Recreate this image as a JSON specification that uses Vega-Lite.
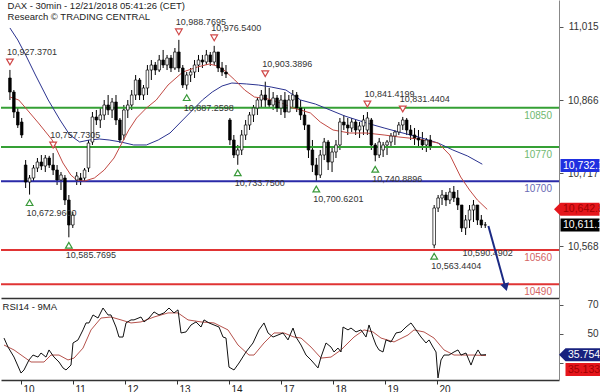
{
"$schema":"https://vega.github.io/schema/vega-lite/v6.json",
"padding":0,"spacing":1,"background":"white",
"config":{"view":{"stroke":null},"font":"Liberation Sans","axis":{"grid":false,"labelFont":"Liberation Sans"}},
"resolve":{"scale":{"y":"independent"}},
"datasets":{
"candles":[
{"n":-4,"o":10910.9,"h":10927.37,"l":10866.0,"c":10882.3},{"n":-3,"o":10882.3,"h":10886.4,"l":10829.3,"c":10841.5},{"n":-2,"o":10841.5,"h":10849.7,"l":10808.9,"c":10815.0},{"n":-1,"o":10821.1,"h":10829.3,"l":10788.5,"c":10794.6},
{"n":0,"o":10733.3,"h":10743.5,"l":10686.4,"c":10698.6},{"n":1,"o":10698.6,"h":10712.9,"l":10672.96,"c":10706.8},{"n":2,"o":10706.8,"h":10733.3,"l":10698.6,"c":10727.2},{"n":3,"o":10727.2,"h":10747.6,"l":10719.0,"c":10739.4},{"n":4,"o":10739.4,"h":10753.7,"l":10723.1,"c":10731.3},{"n":5,"o":10731.3,"h":10753.7,"l":10719.0,"c":10747.6},{"n":6,"o":10747.6,"h":10752.0,"l":10727.2,"c":10733.3},{"n":7,"o":10733.3,"h":10757.73,"l":10712.9,"c":10723.1},{"n":8,"o":10723.1,"h":10733.3,"l":10692.5,"c":10702.7},{"n":9,"o":10702.7,"h":10719.0,"l":10682.3,"c":10712.9},{"n":10,"o":10706.8,"h":10712.9,"l":10651.7,"c":10661.9},{"n":11,"o":10661.9,"h":10672.1,"l":10585.77,"c":10610.9},{"n":12,"o":10610.9,"h":10637.4,"l":10604.8,"c":10631.3},
{"n":13,"o":10702.7,"h":10719.0,"l":10692.5,"c":10710.9},{"n":14,"o":10706.8,"h":10717.0,"l":10692.5,"c":10702.7},{"n":15,"o":10706.8,"h":10727.2,"l":10698.6,"c":10723.1},{"n":16,"o":10727.2,"h":10784.4,"l":10719.0,"c":10778.2},{"n":17,"o":10780.3,"h":10841.5,"l":10774.2,"c":10831.3},{"n":18,"o":10831.3,"h":10845.6,"l":10815.0,"c":10825.2},{"n":19,"o":10825.2,"h":10849.7,"l":10808.9,"c":10835.4},{"n":20,"o":10835.4,"h":10866.0,"l":10825.2,"c":10855.8},{"n":21,"o":10855.8,"h":10876.2,"l":10835.4,"c":10845.6},{"n":22,"o":10845.6,"h":10870.1,"l":10829.3,"c":10861.9},{"n":23,"o":10861.9,"h":10876.2,"l":10815.0,"c":10825.2},{"n":24,"o":10825.2,"h":10829.3,"l":10778.2,"c":10784.4},{"n":25,"o":10794.6,"h":10855.8,"l":10784.4,"c":10845.6},
{"n":26,"o":10845.6,"h":10866.0,"l":10829.3,"c":10855.8},{"n":27,"o":10855.8,"h":10886.4,"l":10845.6,"c":10876.2},{"n":28,"o":10876.2,"h":10917.0,"l":10866.0,"c":10906.8},{"n":29,"o":10906.8,"h":10910.9,"l":10866.0,"c":10876.2},{"n":30,"o":10876.2,"h":10896.6,"l":10866.0,"c":10890.5},{"n":31,"o":10890.5,"h":10937.4,"l":10876.2,"c":10927.2},{"n":32,"o":10927.2,"h":10947.6,"l":10906.8,"c":10937.4},{"n":33,"o":10937.4,"h":10943.6,"l":10917.0,"c":10927.2},{"n":34,"o":10927.2,"h":10957.9,"l":10923.1,"c":10947.6},{"n":35,"o":10947.6,"h":10968.1,"l":10931.3,"c":10937.4},{"n":36,"o":10937.4,"h":10957.9,"l":10927.2,"c":10951.7},{"n":37,"o":10951.7,"h":10957.9,"l":10923.1,"c":10931.3},{"n":38,"o":10931.3,"h":10972.1,"l":10927.2,"c":10964.0},
{"n":39,"o":10964.0,"h":10988.77,"l":10923.1,"c":10931.3},{"n":40,"o":10931.3,"h":10937.4,"l":10890.5,"c":10896.6},{"n":41,"o":10896.6,"h":10923.1,"l":10887.26,"c":10917.0},{"n":42,"o":10917.0,"h":10931.3,"l":10902.7,"c":10923.1},{"n":43,"o":10923.1,"h":10947.6,"l":10910.9,"c":10937.4},{"n":44,"o":10937.4,"h":10957.9,"l":10923.1,"c":10947.6},{"n":45,"o":10947.6,"h":10957.9,"l":10931.3,"c":10943.6},{"n":46,"o":10943.6,"h":10968.1,"l":10937.4,"c":10957.9},{"n":47,"o":10957.9,"h":10964.0,"l":10935.4,"c":10943.6},{"n":48,"o":10943.6,"h":10976.54,"l":10937.4,"c":10964.0},{"n":49,"o":10964.0,"h":10964.0,"l":10923.1,"c":10931.3},{"n":50,"o":10931.3,"h":10943.6,"l":10915.0,"c":10923.1},{"n":51,"o":10923.1,"h":10937.4,"l":10910.9,"c":10919.1},
{"n":52,"o":10825.2,"h":10829.3,"l":10774.2,"c":10784.4},{"n":53,"o":10784.4,"h":10794.6,"l":10747.6,"c":10753.7},{"n":54,"o":10753.7,"h":10774.2,"l":10733.75,"c":10764.0},{"n":55,"o":10764.0,"h":10804.8,"l":10753.7,"c":10794.6},{"n":56,"o":10794.6,"h":10825.2,"l":10784.4,"c":10815.0},{"n":57,"o":10815.0,"h":10841.5,"l":10804.8,"c":10835.4},{"n":58,"o":10835.4,"h":10855.8,"l":10821.1,"c":10849.7},{"n":59,"o":10849.7,"h":10870.1,"l":10835.4,"c":10866.0},{"n":60,"o":10866.0,"h":10886.4,"l":10849.7,"c":10876.2},{"n":61,"o":10876.2,"h":10903.39,"l":10849.7,"c":10866.0},{"n":62,"o":10866.0,"h":10890.5,"l":10849.7,"c":10855.8},{"n":63,"o":10855.8,"h":10882.3,"l":10845.6,"c":10870.1},{"n":64,"o":10870.1,"h":10876.2,"l":10841.5,"c":10849.7},
{"n":65,"o":10849.7,"h":10876.2,"l":10835.4,"c":10866.0},{"n":66,"o":10866.0,"h":10882.3,"l":10829.3,"c":10841.5},{"n":67,"o":10841.5,"h":10876.2,"l":10841.5,"c":10866.0},{"n":68,"o":10866.0,"h":10886.4,"l":10849.7,"c":10876.2},{"n":69,"o":10876.2,"h":10882.3,"l":10841.5,"c":10849.7},{"n":70,"o":10849.7,"h":10866.0,"l":10825.2,"c":10835.4},{"n":71,"o":10835.4,"h":10849.7,"l":10804.8,"c":10815.0},{"n":72,"o":10815.0,"h":10815.0,"l":10747.6,"c":10764.0},{"n":73,"o":10764.0,"h":10784.4,"l":10719.0,"c":10733.3},{"n":74,"o":10733.3,"h":10747.6,"l":10700.62,"c":10712.9},{"n":75,"o":10712.9,"h":10764.0,"l":10706.8,"c":10753.7},{"n":76,"o":10753.7,"h":10788.5,"l":10743.5,"c":10780.3},{"n":77,"o":10780.3,"h":10784.4,"l":10723.1,"c":10739.4},
{"n":78,"o":10739.4,"h":10768.0,"l":10719.0,"c":10759.9},{"n":79,"o":10759.9,"h":10784.4,"l":10747.6,"c":10774.2},{"n":80,"o":10774.2,"h":10829.3,"l":10764.0,"c":10821.1},{"n":81,"o":10821.1,"h":10835.4,"l":10804.8,"c":10815.0},{"n":82,"o":10815.0,"h":10829.3,"l":10794.6,"c":10808.9},{"n":83,"o":10808.9,"h":10829.3,"l":10800.7,"c":10821.1},{"n":84,"o":10821.1,"h":10825.2,"l":10794.6,"c":10804.8},{"n":85,"o":10804.8,"h":10821.1,"l":10788.5,"c":10812.9},{"n":86,"o":10812.9,"h":10835.4,"l":10794.6,"c":10825.2},{"n":87,"o":10804.8,"h":10841.42,"l":10794.6,"c":10829.3},{"n":88,"o":10825.2,"h":10829.3,"l":10764.0,"c":10774.2},{"n":89,"o":10774.2,"h":10778.2,"l":10740.89,"c":10753.7},{"n":90,"o":10753.7,"h":10788.5,"l":10747.6,"c":10780.3},
{"n":91,"o":10764.0,"h":10780.3,"l":10749.7,"c":10774.2},{"n":92,"o":10774.2,"h":10784.4,"l":10753.7,"c":10780.3},{"n":93,"o":10780.3,"h":10798.6,"l":10768.0,"c":10792.5},{"n":94,"o":10792.5,"h":10804.8,"l":10774.2,"c":10800.7},{"n":95,"o":10800.7,"h":10821.1,"l":10794.6,"c":10815.0},{"n":96,"o":10815.0,"h":10831.44,"l":10804.8,"c":10825.2},{"n":97,"o":10825.2,"h":10829.3,"l":10794.6,"c":10804.8},{"n":98,"o":10804.8,"h":10815.0,"l":10784.4,"c":10794.6},{"n":99,"o":10794.6,"h":10808.9,"l":10774.2,"c":10788.5},{"n":100,"o":10788.5,"h":10804.8,"l":10768.0,"c":10784.4},{"n":101,"o":10784.4,"h":10800.7,"l":10764.0,"c":10774.2},{"n":102,"o":10774.2,"h":10788.5,"l":10759.9,"c":10784.4},{"n":103,"o":10784.4,"h":10794.6,"l":10764.0,"c":10772.1},
{"n":104,"o":10570.1,"h":10651.7,"l":10563.44,"c":10645.6},{"n":105,"o":10645.6,"h":10672.1,"l":10637.4,"c":10666.0},{"n":106,"o":10666.0,"h":10682.3,"l":10651.7,"c":10672.1},{"n":107,"o":10672.1,"h":10678.2,"l":10649.6,"c":10661.9},{"n":108,"o":10661.9,"h":10686.4,"l":10653.7,"c":10678.2},{"n":109,"o":10678.2,"h":10690.5,"l":10657.8,"c":10666.0},{"n":110,"o":10666.0,"h":10682.3,"l":10641.5,"c":10651.7},{"n":111,"o":10651.7,"h":10651.7,"l":10596.6,"c":10604.8},{"n":112,"o":10604.8,"h":10631.3,"l":10590.49,"c":10621.1},{"n":113,"o":10621.1,"h":10651.7,"l":10604.8,"c":10641.5},{"n":114,"o":10641.5,"h":10661.9,"l":10617.0,"c":10651.7},{"n":115,"o":10651.7,"h":10651.7,"l":10610.9,"c":10621.1},{"n":116,"o":10621.1,"h":10631.3,"l":10604.8,"c":10610.9},{"n":117,"o":10610.9,"h":10617.0,"l":10604.8,"c":10611.1}
],
"ma":[
{"s":"fast","n":-4,"v":10872.1},{"s":"fast","n":-1.75,"v":10866.0},{"s":"fast","n":0,"v":10849.7},{"s":"fast","n":3.25,"v":10819.1},{"s":"fast","n":6.75,"v":10784.4},{"s":"fast","n":9.5,"v":10737.4},{"s":"fast","n":11.5,"v":10712.9},{"s":"fast","n":13,"v":10702.7},{"s":"fast","n":15,"v":10700.7},{"s":"fast","n":17.5,"v":10706.8},{"s":"fast","n":20,"v":10723.1},{"s":"fast","n":22.5,"v":10747.6},{"s":"fast","n":24.25,"v":10774.2},{"s":"fast","n":26.25,"v":10804.8},{"s":"fast","n":28.25,"v":10829.3},{"s":"fast","n":30.75,"v":10849.7},{"s":"fast","n":33.25,"v":10866.0},{"s":"fast","n":36.25,"v":10896.6},{"s":"fast","n":40,"v":10923.1},{"s":"fast","n":43.75,"v":10933.4},{"s":"fast","n":46.75,"v":10939.5},{"s":"fast","n":48.75,"v":10935.4},{"s":"fast","n":50.5,"v":10927.2},{"s":"fast","n":53.25,"v":10906.8},{"s":"fast","n":55.75,"v":10886.4},{"s":"fast","n":58.25,"v":10872.1},{"s":"fast","n":61.75,"v":10868.0},{"s":"fast","n":65.75,"v":10857.8},{"s":"fast","n":68,"v":10849.7},{"s":"fast","n":70,"v":10845.6},{"s":"fast","n":72.5,"v":10839.5},{"s":"fast","n":75,"v":10821.1},{"s":"fast","n":78.25,"v":10804.8},{"s":"fast","n":82.5,"v":10798.6},{"s":"fast","n":86.75,"v":10798.6},{"s":"fast","n":91.25,"v":10794.6},{"s":"fast","n":95,"v":10790.5},{"s":"fast","n":100,"v":10786.4},{"s":"fast","n":105,"v":10778.2},{"s":"fast","n":108,"v":10753.7},{"s":"fast","n":110.75,"v":10708.8},{"s":"fast","n":113,"v":10682.3},{"s":"fast","n":115,"v":10661.9},{"s":"fast","n":117.5,"v":10642.8},
{"s":"slow","n":-4,"v":11013.0},{"s":"slow","n":-2,"v":10988.5},{"s":"slow","n":0,"v":10957.9},{"s":"slow","n":2.5,"v":10917.0},{"s":"slow","n":5.75,"v":10866.0},{"s":"slow","n":8.75,"v":10825.2},{"s":"slow","n":11.25,"v":10794.6},{"s":"slow","n":13.75,"v":10780.3},{"s":"slow","n":16.25,"v":10784.4},{"s":"slow","n":18.75,"v":10786.4},{"s":"slow","n":21.25,"v":10784.4},{"s":"slow","n":24.25,"v":10780.3},{"s":"slow","n":27.5,"v":10774.2},{"s":"slow","n":30.75,"v":10774.2},{"s":"slow","n":33.75,"v":10784.4},{"s":"slow","n":36.75,"v":10798.6},{"s":"slow","n":40,"v":10825.2},{"s":"slow","n":42.5,"v":10845.6},{"s":"slow","n":45,"v":10866.0},{"s":"slow","n":47.5,"v":10882.3},{"s":"slow","n":50,"v":10894.6},{"s":"slow","n":52.5,"v":10900.7},{"s":"slow","n":56.25,"v":10898.7},{"s":"slow","n":59.25,"v":10896.6},{"s":"slow","n":62.5,"v":10892.5},{"s":"slow","n":66.25,"v":10886.4},{"s":"slow","n":70,"v":10866.0},{"s":"slow","n":73.75,"v":10857.8},{"s":"slow","n":76.25,"v":10849.7},{"s":"slow","n":81.25,"v":10833.3},{"s":"slow","n":86.75,"v":10819.1},{"s":"slow","n":91.25,"v":10808.9},{"s":"slow","n":95,"v":10800.7},{"s":"slow","n":100,"v":10790.5},{"s":"slow","n":105,"v":10778.2},{"s":"slow","n":108.75,"v":10764.0},{"s":"slow","n":112.5,"v":10751.7},{"s":"slow","n":116.25,"v":10735.0}
],
"rsi":[
{"s":"rsi","n":-4.25,"v":47.2},{"s":"rsi","n":-3.25,"v":41.0},{"s":"rsi","n":-1.75,"v":34.1},{"s":"rsi","n":0,"v":23.1},{"s":"rsi","n":0.75,"v":25.2},{"s":"rsi","n":2,"v":32.1},{"s":"rsi","n":3,"v":35.5},{"s":"rsi","n":4.25,"v":34.1},{"s":"rsi","n":5,"v":36.9},{"s":"rsi","n":6.25,"v":34.1},{"s":"rsi","n":7,"v":39.0},{"s":"rsi","n":8.25,"v":34.1},{"s":"rsi","n":9.5,"v":30.7},{"s":"rsi","n":10.5,"v":26.6},{"s":"rsi","n":11.25,"v":25.2},{"s":"rsi","n":12.5,"v":28.6},{"s":"rsi","n":13,"v":43.8},{"s":"rsi","n":14.25,"v":45.9},{"s":"rsi","n":15.5,"v":52.8},{"s":"rsi","n":16.25,"v":57.6},{"s":"rsi","n":17,"v":57.6},{"s":"rsi","n":18,"v":63.1},{"s":"rsi","n":19.25,"v":61.0},{"s":"rsi","n":20.5,"v":67.9},{"s":"rsi","n":21.75,"v":63.1},{"s":"rsi","n":22.5,"v":63.1},{"s":"rsi","n":23.75,"v":54.8},{"s":"rsi","n":24.5,"v":47.9},{"s":"rsi","n":25.5,"v":47.9},{"s":"rsi","n":26.25,"v":57.6},{"s":"rsi","n":27.5,"v":59.7},{"s":"rsi","n":28.25,"v":59.7},{"s":"rsi","n":30,"v":61.7},{"s":"rsi","n":30.75,"v":58.3},{"s":"rsi","n":32,"v":61.0},{"s":"rsi","n":33.25,"v":65.2},{"s":"rsi","n":34.5,"v":63.1},{"s":"rsi","n":35.75,"v":64.5},{"s":"rsi","n":37,"v":67.9},{"s":"rsi","n":38.25,"v":64.5},{"s":"rsi","n":39.25,"v":66.6},{"s":"rsi","n":40,"v":50.7},{"s":"rsi","n":41.25,"v":51.4},{"s":"rsi","n":42.5,"v":56.2},{"s":"rsi","n":43.75,"v":58.3},{"s":"rsi","n":45,"v":54.8},{"s":"rsi","n":45.75,"v":59.7},{"s":"rsi","n":47,"v":57.6},{"s":"rsi","n":48.25,"v":56.2},{"s":"rsi","n":49.5,"v":54.8},{"s":"rsi","n":50.5,"v":47.9},{"s":"rsi","n":51.25,"v":47.2},{"s":"rsi","n":52,"v":27.2},{"s":"rsi","n":53.25,"v":25.2},{"s":"rsi","n":54.5,"v":30.0},{"s":"rsi","n":56.25,"v":37.6},{"s":"rsi","n":58,"v":43.8},{"s":"rsi","n":59.5,"v":52.8},{"s":"rsi","n":60.75,"v":57.6},{"s":"rsi","n":61.75,"v":50.7},{"s":"rsi","n":63,"v":47.9},{"s":"rsi","n":64.25,"v":49.3},{"s":"rsi","n":65.5,"v":50.7},{"s":"rsi","n":66.75,"v":45.9},{"s":"rsi","n":68,"v":54.1},{"s":"rsi","n":68.75,"v":47.9},{"s":"rsi","n":70,"v":42.4},{"s":"rsi","n":71.25,"v":35.5},{"s":"rsi","n":72.5,"v":32.1},{"s":"rsi","n":74.25,"v":26.6},{"s":"rsi","n":75,"v":34.1},{"s":"rsi","n":76.25,"v":43.8},{"s":"rsi","n":77.5,"v":41.0},{"s":"rsi","n":78.25,"v":37.6},{"s":"rsi","n":79.25,"v":40.3},{"s":"rsi","n":80,"v":37.6},{"s":"rsi","n":80.5,"v":54.8},{"s":"rsi","n":81.75,"v":52.8},{"s":"rsi","n":82.5,"v":54.1},{"s":"rsi","n":83.75,"v":51.4},{"s":"rsi","n":85,"v":52.8},{"s":"rsi","n":86.25,"v":47.9},{"s":"rsi","n":87,"v":56.2},{"s":"rsi","n":88,"v":47.9},{"s":"rsi","n":88.75,"v":42.4},{"s":"rsi","n":89.5,"v":39.0},{"s":"rsi","n":90.5,"v":37.6},{"s":"rsi","n":91.25,"v":45.9},{"s":"rsi","n":92.5,"v":44.5},{"s":"rsi","n":93.75,"v":50.7},{"s":"rsi","n":95,"v":51.4},{"s":"rsi","n":96.25,"v":54.8},{"s":"rsi","n":97.5,"v":57.6},{"s":"rsi","n":98.75,"v":52.8},{"s":"rsi","n":100,"v":47.9},{"s":"rsi","n":101.25,"v":43.8},{"s":"rsi","n":102,"v":45.9},{"s":"rsi","n":103,"v":41.0},{"s":"rsi","n":103.75,"v":37.6},{"s":"rsi","n":104.25,"v":19.7},{"s":"rsi","n":105,"v":32.1},{"s":"rsi","n":105.75,"v":35.5},{"s":"rsi","n":107,"v":35.5},{"s":"rsi","n":108.25,"v":37.6},{"s":"rsi","n":109.25,"v":39.0},{"s":"rsi","n":110,"v":35.5},{"s":"rsi","n":111.25,"v":36.9},{"s":"rsi","n":112.5,"v":28.6},{"s":"rsi","n":113.25,"v":34.1},{"s":"rsi","n":114.25,"v":39.0},{"s":"rsi","n":115,"v":35.5},{"s":"rsi","n":116.25,"v":35.75},
{"s":"ma","n":-4.25,"v":42.4},{"s":"ma","n":-1.75,"v":39.0},{"s":"ma","n":0.75,"v":34.1},{"s":"ma","n":2.5,"v":30.7},{"s":"ma","n":5.75,"v":30.7},{"s":"ma","n":7.5,"v":35.5},{"s":"ma","n":9.5,"v":35.5},{"s":"ma","n":11.75,"v":32.1},{"s":"ma","n":13.25,"v":33.4},{"s":"ma","n":15.5,"v":40.3},{"s":"ma","n":17.5,"v":52.8},{"s":"ma","n":20,"v":61.0},{"s":"ma","n":22.5,"v":61.7},{"s":"ma","n":25,"v":59.7},{"s":"ma","n":27.5,"v":57.6},{"s":"ma","n":30,"v":58.3},{"s":"ma","n":33.25,"v":61.7},{"s":"ma","n":36.75,"v":64.5},{"s":"ma","n":39.25,"v":64.5},{"s":"ma","n":41.75,"v":59.7},{"s":"ma","n":45,"v":58.3},{"s":"ma","n":48.25,"v":57.6},{"s":"ma","n":51.75,"v":52.8},{"s":"ma","n":54.25,"v":42.4},{"s":"ma","n":57,"v":35.5},{"s":"ma","n":58.25,"v":35.5},{"s":"ma","n":60.75,"v":43.8},{"s":"ma","n":63.25,"v":50.7},{"s":"ma","n":65.75,"v":50.7},{"s":"ma","n":68.25,"v":47.9},{"s":"ma","n":70,"v":47.2},{"s":"ma","n":72.5,"v":41.0},{"s":"ma","n":75,"v":33.4},{"s":"ma","n":77.5,"v":34.1},{"s":"ma","n":80,"v":39.0},{"s":"ma","n":83.25,"v":47.9},{"s":"ma","n":85.75,"v":52.8},{"s":"ma","n":88,"v":51.4},{"s":"ma","n":90,"v":47.2},{"s":"ma","n":93.25,"v":44.5},{"s":"ma","n":96.75,"v":49.3},{"s":"ma","n":98.25,"v":52.8},{"s":"ma","n":100.75,"v":51.4},{"s":"ma","n":103.25,"v":47.2},{"s":"ma","n":105.75,"v":39.0},{"s":"ma","n":108.25,"v":35.5},{"s":"ma","n":110.75,"v":35.5},{"s":"ma","n":113.25,"v":35.5},{"s":"ma","n":116.25,"v":35.13}
],
"levels":[{"v":10850,"t":"resistance","label":"10850"},{"v":10770,"t":"resistance","label":"10770"},{"v":10700,"t":"pivot","label":"10700"},{"v":10560,"t":"support","label":"10560"},{"v":10490,"t":"support","label":"10490"}],
"notes":[{"n":-4,"v":10927.37,"k":"high","label":"10,927.3701"},{"n":1,"v":10672.96,"k":"low","label":"10,672.9600"},{"n":7,"v":10757.73,"k":"high","label":"10,757.7305"},{"n":11,"v":10585.77,"k":"low","label":"10,585.7695"},{"n":39,"v":10988.77,"k":"high","label":"10,988.7695"},{"n":41,"v":10887.26,"k":"low","label":"10,887.2598"},{"n":48,"v":10976.54,"k":"high","label":"10,976.5400"},{"n":54,"v":10733.75,"k":"low","label":"10,733.7500"},{"n":61,"v":10903.39,"k":"high","label":"10,903.3896"},{"n":74,"v":10700.62,"k":"low","label":"10,700.6201"},{"n":87,"v":10841.42,"k":"high","label":"10,841.4199"},{"n":89,"v":10740.89,"k":"low","label":"10,740.8896"},{"n":96,"v":10831.44,"k":"high","label":"10,831.4404"},{"n":104,"v":10563.44,"k":"low","label":"10,563.4404"},{"n":112,"v":10590.49,"k":"lowtext","label":"10,590.4902"}],
"tags":[{"t":"slow","v":10732.1,"label":"10,732.1"},{"t":"fast","v":10642.8,"label":"10,642.8"},{"t":"last","v":10611.1,"label":"10,611.1"}],
"rsitags":[{"t":"rsi","v":35.7542,"label":"35.7542"},{"t":"ma","v":35.133,"label":"35.133"}],
"arrow":[{"n":117.8,"v":10609},{"n":121.9,"v":10490}],
"head":[{"n":122.2,"v":10484}],
"titles":[{"line":1,"text":"DAX - 30min - 12/21/2018 05:41:26 (CET)","v":11068.5},{"line":2,"text":"Research \u00a9 TRADING CENTRAL","v":11046}]
},
"vconcat":[
{"width":558,"height":298,
"layer":[
{"data":{"name":"candles"},"mark":{"type":"rule","color":"#000","strokeWidth":1},
 "encoding":{"x":{"field":"n","type":"quantitative","title":null,"scale":{"domain":[-5,134.5],"nice":false,"zero":false},"axis":{"orient":"bottom","labels":false,"ticks":false,"domain":true,"domainColor":"#333","domainWidth":1.5}},
  "y":{"field":"l","type":"quantitative","title":null,"scale":{"domain":[10461.9,11070.1],"nice":false,"zero":false},"axis":{"orient":"right","values":[10568,10717,10866,11015],"format":",.0f","labelAlign":"right","labelPadding":35,"tickSize":4,"tickColor":"#555","domainColor":"#888","labelFontSize":10,"labelColor":"#333"}},
  "y2":{"field":"h"}}},
{"data":{"name":"levels"},"mark":{"type":"rule","strokeWidth":2},
 "encoding":{"y":{"field":"v","type":"quantitative","title":null},
  "color":{"condition":[{"test":"datum.t=='resistance'","value":"#35a035"},{"test":"datum.t=='pivot'","value":"#2a2aa8"}],"value":"#e03434"}}},
{"data":{"name":"levels"},"mark":{"type":"text","align":"right","baseline":"top","dx":-2,"dy":3,"fontSize":10},
 "encoding":{"x":{"datum":134.5,"type":"quantitative","title":null},"y":{"field":"v","type":"quantitative","title":null},"text":{"field":"label"},
  "color":{"condition":[{"test":"datum.t=='resistance'","value":"#70b870"},{"test":"datum.t=='pivot'","value":"#6a6ab4"}],"value":"#d46464"}}},
{"data":{"name":"ma"},"transform":[{"filter":"datum.s=='slow'"}],"mark":{"type":"line","color":"#2b3390","strokeWidth":1},
 "encoding":{"x":{"field":"n","type":"quantitative","title":null},"y":{"field":"v","type":"quantitative","title":null}}},
{"data":{"name":"ma"},"transform":[{"filter":"datum.s=='fast'"}],"mark":{"type":"line","color":"#c24a44","strokeWidth":1},
 "encoding":{"x":{"field":"n","type":"quantitative","title":null},"y":{"field":"v","type":"quantitative","title":null}}},
{"data":{"name":"candles"},"mark":{"type":"bar","width":2.6,"stroke":"#000","strokeWidth":0.7},
 "encoding":{"x":{"field":"n","type":"quantitative","title":null},"y":{"field":"o","type":"quantitative","title":null},"y2":{"field":"c"},
  "fill":{"condition":{"test":"datum.c>=datum.o","value":"#ffffff"},"value":"#000000"}}},
{"data":{"name":"notes"},"transform":[{"filter":"datum.k=='high'"}],"mark":{"type":"point","shape":"triangle-down","size":45,"filled":false,"fill":"white","stroke":"#d04848","strokeWidth":1.2,"yOffset":-8,"opacity":1},
 "encoding":{"x":{"field":"n","type":"quantitative","title":null},"y":{"field":"v","type":"quantitative","title":null}}},
{"data":{"name":"notes"},"transform":[{"filter":"datum.k=='low'"}],"mark":{"type":"point","shape":"triangle-up","size":45,"filled":false,"fill":"white","stroke":"#3a9a3a","strokeWidth":1.2,"yOffset":8,"opacity":1},
 "encoding":{"x":{"field":"n","type":"quantitative","title":null},"y":{"field":"v","type":"quantitative","title":null}}},
{"data":{"name":"notes"},"transform":[{"filter":"datum.k=='high'"}],"mark":{"type":"text","align":"left","baseline":"middle","dx":-3,"dy":-18,"fontSize":9,"color":"#333"},
 "encoding":{"x":{"field":"n","type":"quantitative","title":null},"y":{"field":"v","type":"quantitative","title":null},"text":{"field":"label"}}},
{"data":{"name":"notes"},"transform":[{"filter":"datum.k!='high'"}],"mark":{"type":"text","align":"left","baseline":"middle","dx":-3,"dy":18,"fontSize":9,"color":"#333"},
 "encoding":{"x":{"field":"n","type":"quantitative","title":null},"y":{"field":"v","type":"quantitative","title":null},"text":{"field":"label"}}},
{"data":{"name":"arrow"},"mark":{"type":"line","color":"#1c2a84","strokeWidth":2},
 "encoding":{"x":{"field":"n","type":"quantitative","title":null},"y":{"field":"v","type":"quantitative","title":null}}},
{"data":{"name":"head"},"mark":{"type":"point","shape":"triangle-down","filled":true,"size":80,"angle":344,"color":"#1c2a84","opacity":1},
 "encoding":{"x":{"field":"n","type":"quantitative","title":null},"y":{"field":"v","type":"quantitative","title":null}}},
{"data":{"name":"tags"},"transform":[{"filter":"datum.t=='slow'"}],"mark":{"type":"point","shape":"M1,-1L7,-1L7,1L1,1Z","size":169,"filled":true,"color":"#1f2fe0","opacity":1,"strokeWidth":0},
 "encoding":{"x":{"datum":134.5,"type":"quantitative","title":null},"y":{"field":"v","type":"quantitative","title":null}}},
{"data":{"name":"tags"},"transform":[{"filter":"datum.t=='fast'"}],"mark":{"type":"point","shape":"M0,0L1,-1L7,-1L7,1L1,1Z","size":169,"filled":true,"color":"#e5161c","opacity":1,"strokeWidth":0},
 "encoding":{"x":{"datum":134.5,"type":"quantitative","title":null},"y":{"field":"v","type":"quantitative","title":null}}},
{"data":{"name":"tags"},"transform":[{"filter":"datum.t=='last'"}],"mark":{"type":"point","shape":"M1,-1L7,-1L7,1L1,1Z","size":169,"filled":true,"color":"#000000","opacity":1,"strokeWidth":0},
 "encoding":{"x":{"datum":134.5,"type":"quantitative","title":null},"y":{"field":"v","type":"quantitative","title":null}}},
{"data":{"name":"tags"},"mark":{"type":"text","align":"left","baseline":"middle","dx":9,"fontSize":10.5},
 "encoding":{"x":{"datum":134.5,"type":"quantitative","title":null},"y":{"field":"v","type":"quantitative","title":null},"text":{"field":"label"},
  "color":{"condition":{"test":"datum.t=='fast'","value":"#a00000"},"value":"#ffffff"}}},
{"data":{"name":"titles"},"mark":{"type":"text","align":"left","baseline":"top","fontSize":9.5,"color":"#222"},
 "encoding":{"x":{"datum":-4.6,"type":"quantitative","title":null},"y":{"field":"v","type":"quantitative","title":null},"text":{"field":"text"}}}
]},
{"width":558,"height":81,
"layer":[
{"data":{"name":"rsi"},"transform":[{"filter":"datum.s=='ma'"}],"mark":{"type":"line","color":"#b5524c","strokeWidth":1},
 "encoding":{"x":{"field":"n","type":"quantitative","title":null,"scale":{"domain":[-5,134.5],"nice":false,"zero":false},"axis":{"orient":"bottom","values":[0,13,26,39,52,65,78,91,104],"labelExpr":"['10','11','12','13','14','17','18','19','20'][round(datum.value/13)]","labelAlign":"left","labelOffset":2,"labelBaseline":"top","labelPadding":0,"tickSize":4,"domainColor":"#333","domainWidth":1.5,"tickColor":"#333","labelFontSize":10,"labelColor":"#222","labelFlush":false,"labelOverlap":false,"labelBound":false}},
  "y":{"field":"v","type":"quantitative","title":null,"scale":{"domain":[18.3,74.1],"nice":false,"zero":false},"axis":{"orient":"right","values":[30,50,70],"labelExpr":"datum.value==30?'':datum.label","labelAlign":"right","labelPadding":35,"tickSize":4,"tickColor":"#555","domainColor":"#888","labelFontSize":10,"labelColor":"#333"}}}},
{"data":{"name":"rsi"},"transform":[{"filter":"datum.s=='rsi'"}],"mark":{"type":"line","color":"#111","strokeWidth":1},
 "encoding":{"x":{"field":"n","type":"quantitative","title":null},"y":{"field":"v","type":"quantitative","title":null}}},
{"data":{"values":[{"label":"RSI14 - 9MA"}]},"mark":{"type":"text","align":"left","baseline":"top","fontSize":9.5,"color":"#222"},
 "encoding":{"x":{"datum":-4.6,"type":"quantitative","title":null},"y":{"datum":72.3,"type":"quantitative","title":null},"text":{"field":"label"}}},
{"data":{"name":"rsitags"},"transform":[{"filter":"datum.t=='rsi'"}],"mark":{"type":"point","shape":"M0,0L1,-1L7,-1L7,1L1,1Z","size":169,"filled":true,"color":"#17217e","opacity":1,"strokeWidth":0},
 "encoding":{"x":{"datum":134.5,"type":"quantitative","title":null},"y":{"field":"v","type":"quantitative","title":null}}},
{"data":{"name":"rsitags"},"transform":[{"filter":"datum.t=='ma'"}],"mark":{"type":"point","shape":"M1,-1L7,-1L7,1L1,1Z","size":169,"filled":true,"color":"#e5161c","opacity":1,"strokeWidth":0,"yOffset":14},
 "encoding":{"x":{"datum":134.5,"type":"quantitative","title":null},"y":{"field":"v","type":"quantitative","title":null}}},
{"data":{"name":"rsitags"},"transform":[{"filter":"datum.t=='rsi'"}],"mark":{"type":"text","align":"left","baseline":"middle","dx":9,"fontSize":10.5,"color":"#ffffff"},
 "encoding":{"x":{"datum":134.5,"type":"quantitative","title":null},"y":{"field":"v","type":"quantitative","title":null},"text":{"field":"label"}}},
{"data":{"name":"rsitags"},"transform":[{"filter":"datum.t=='ma'"}],"mark":{"type":"text","align":"left","baseline":"middle","dx":9,"dy":14,"fontSize":10.5,"color":"#a00000"},
 "encoding":{"x":{"datum":134.5,"type":"quantitative","title":null},"y":{"field":"v","type":"quantitative","title":null},"text":{"field":"label"}}}
]}
]
}
